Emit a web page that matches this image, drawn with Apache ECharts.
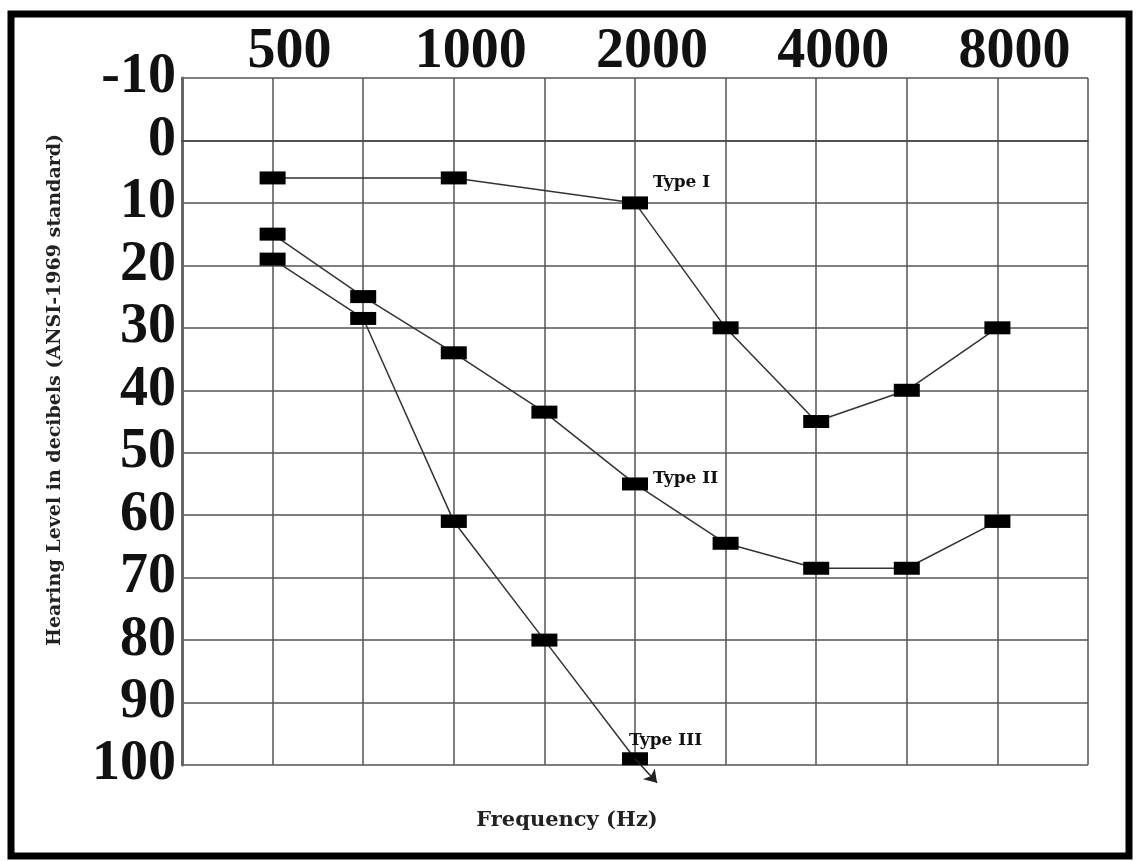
<!DOCTYPE html>
<html>
<head>
<meta charset="utf-8">
<script src="https://cdn.jsdelivr.net/npm/echarts@6/dist/echarts.min.js"></script>
<style>
  html, body { margin: 0; padding: 0; background: #fff; }
  #chart { width: 1136px; height: 861px; }
</style>
</head>
<body>
<div id="chart"></div>
<script>
// frequency slots along the x axis (first and last are the unlabelled edges)
const freqSlots = ['', '500', '750', '1000', '1500', '2000', '3000', '4000', '6000', '8000', '']
const topLabels = ['500', '1000', '2000', '4000', '8000']
const dbTicks = [-10, 0, 10, 20, 30, 40, 50, 60, 70, 80, 90, 100]

const typeIFreq = ['500', '1000', '2000', '3000', '4000', '6000', '8000']
const typeIdB = [6, 6, 10, 30, 45, 40, 30]

const typeIIFreq = ['500', '750', '1000', '1500', '2000', '3000', '4000', '6000', '8000']
const typeIIdB = [15, 25, 34, 43.5, 55, 64.5, 68.5, 68.5, 61]

const typeIIIFreq = ['500', '750', '1000', '1500', '2000']
const typeIIIdB = [19, 28.5, 61, 80, 99]

const serif = '"Liberation Serif", "Times New Roman", serif'
const wideSerif = '"DejaVu Serif", serif'

function buildData(freqs, values, labelFreq, labelText, labelOffset) {
  return freqs.map((f, i) => {
    const item = { value: [freqSlots.indexOf(f), values[i]] }
    if (f === labelFreq) {
      item.label = {
        show: true,
        position: 'right',
        formatter: labelText,
        offset: labelOffset,
        fontFamily: wideSerif,
        fontWeight: 'bold',
        fontSize: 17,
        color: '#111'
      }
    }
    return item
  })
}

const chart = echarts.init(document.getElementById('chart'))

const lineSeries = (name, data, extra) => Object.assign({
  name: name,
  type: 'line',
  data: data,
  symbol: 'rect',
  symbolSize: [26, 13],
  itemStyle: { color: '#000' },
  lineStyle: { color: '#333', width: 1.5 },
  clip: false,
  animation: false
}, extra || {})

const option = {
  backgroundColor: '#fff',
  grid: { left: 182, right: 48, top: 78, bottom: 96 },
  xAxis: {
    type: 'value',
    position: 'top',
    min: 0,
    max: freqSlots.length - 1,
    interval: 1,
    axisLine: { show: true, lineStyle: { color: '#444', width: 1.5 } },
    axisTick: { show: false },
    axisLabel: {
      margin: -3,
      padding: [0, 0, 0, 34],
      fontFamily: serif,
      fontWeight: 'bold',
      fontSize: 56,
      color: '#111',
      formatter: v => (topLabels.includes(freqSlots[v]) ? freqSlots[v] : '')
    },
    splitLine: { show: true, lineStyle: { color: '#555', width: 1.5 } }
  },
  yAxis: {
    type: 'value',
    inverse: true,
    min: dbTicks[0],
    max: dbTicks[dbTicks.length - 1],
    interval: 10,
    axisLine: { show: true, lineStyle: { color: '#666', width: 3 } },
    axisTick: { show: false },
    axisLabel: {
      margin: 6,
      fontFamily: serif,
      fontWeight: 'bold',
      fontSize: 56,
      color: '#111'
    },
    splitLine: { show: true, lineStyle: { color: '#555', width: 1.5 } }
  },
  graphic: [
    {
      type: 'rect',
      shape: { x: 11, y: 14, width: 1118, height: 842 },
      style: { fill: 'none', stroke: '#000', lineWidth: 7 },
      silent: true
    },
    {
      type: 'text',
      x: 55,
      y: 390,
      rotation: Math.PI / 2,
      style: {
        text: 'Hearing Level in decibels (ANSI-1969 standard)',
        font: 'bold 19px ' + wideSerif,
        fill: '#222',
        align: 'center',
        verticalAlign: 'middle'
      }
    },
    {
      type: 'text',
      x: 567,
      y: 821,
      style: {
        text: 'Frequency (Hz)',
        font: 'bold 21px ' + wideSerif,
        fill: '#222',
        align: 'center',
        verticalAlign: 'middle'
      }
    }
  ],
  series: [
    lineSeries('Type I', buildData(typeIFreq, typeIdB, '2000', 'Type I', [0, -20])),
    lineSeries('Type II', buildData(typeIIFreq, typeIIdB, '2000', 'Type II', [0, -5])),
    lineSeries('Type III', buildData(typeIIIFreq, typeIIIdB, '2000', 'Type III', [-24, -18]))
  ]
}

chart.setOption(option)

// arrow continuing Type III below the chart floor
const lastIdx = typeIIIFreq.length - 1
const start = [freqSlots.indexOf(typeIIIFreq[lastIdx]), typeIIIdB[lastIdx]]
const startPx = chart.convertToPixel({ gridIndex: 0 }, start)
chart.setOption({
  series: [{}, {}, {
    markLine: {
      silent: true,
      animation: false,
      symbol: ['none', 'arrow'],
      symbolSize: 12,
      label: { show: false },
      lineStyle: { color: '#222', width: 1.5, type: 'solid' },
      data: [[
        { coord: start },
        { x: startPx[0] + 22, y: startPx[1] + 24 }
      ]]
    }
  }]
})
</script>
</body>
</html>
